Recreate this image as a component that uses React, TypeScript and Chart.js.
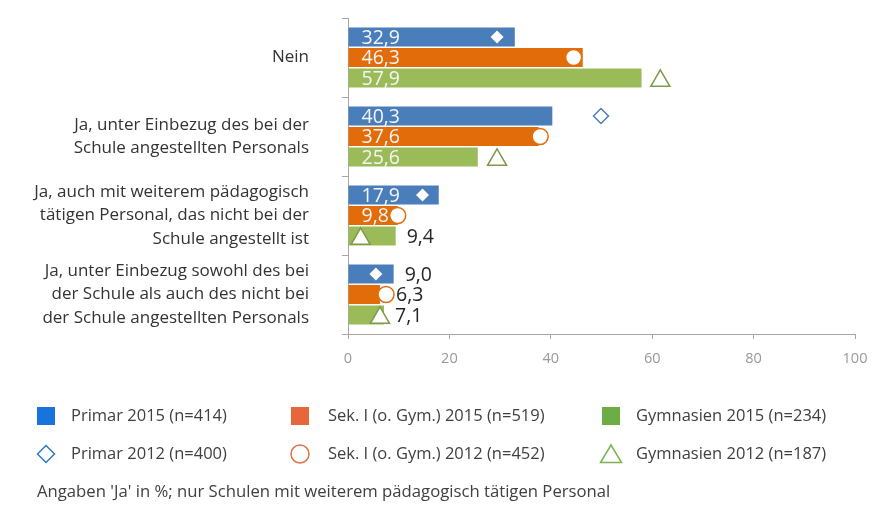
import React, { useEffect, useRef } from 'react';
import { Chart, registerables } from 'chart.js';

Chart.register(...registerables);

const categories: string[][] = [
  ['Nein'],
  ['Ja, unter Einbezug des bei der', 'Schule angestellten Personals'],
  ['Ja, auch mit weiterem pädagogisch', 'tätigen Personal, das nicht bei der', 'Schule angestellt ist'],
  ['Ja, unter Einbezug sowohl des bei', 'der Schule als auch des nicht bei', 'der Schule angestellten Personals'],
];

const primar2015 = [32.9, 40.3, 17.9, 9.0];
const sek2015 = [46.3, 37.6, 9.8, 6.3];
const gym2015 = [57.9, 25.6, 9.4, 7.1];

const primar2012 = [29.4, 49.9, 14.7, 5.5];
const sek2012 = [44.5, 37.9, 9.8, 7.5];
const gym2012 = [61.6, 29.4, 2.5, 6.3];

const xMin = 0;
const xMax = 100;
const xStep = 20;

const legend2015 = ['Primar 2015 (n=414)', 'Sek. I (o. Gym.) 2015 (n=519)', 'Gymnasien 2015 (n=234)'];
const legend2012 = ['Primar 2012 (n=400)', 'Sek. I (o. Gym.) 2012 (n=452)', 'Gymnasien 2012 (n=187)'];
const footnote = "Angaben 'Ja' in %; nur Schulen mit weiterem pädagogisch tätigen Personal";

const FONT = "'Open Sans', 'Noto Sans', sans-serif";
const barColors = ['#4a7ebb', '#e36c0a', '#9bbb59'];
const markerColors = ['#4a7ebb', '#e36c0a', '#7f9a4c'];
const markerStyles = ['rectRot', 'circle', 'triangle'];
const markerRadii = [7.5, 8, 11];
const legendSquareColors = ['#1a73dc', '#e8673a', '#6cae45'];
const legendMarkerColors = ['#2f78cc', '#e0744a', '#7ab34e'];

const fmt = (v: number) => v.toFixed(1).replace('.', ',');

const markerAlignPlugin = {
  id: 'markerAlign',
  afterDatasetsUpdate(chart: any) {
    for (let k = 0; k < 3; k++) {
      const barMeta = chart.getDatasetMeta(k);
      const mMeta = chart.getDatasetMeta(k + 3);
      mMeta.data.forEach((pt: any, i: number) => {
        const bar = barMeta.data[i];
        if (bar) pt.y = bar.y + (markerStyles[k] === 'triangle' ? markerRadii[k] * 0.25 : 0);
      });
    }
  },
};

const labelPlugin = {
  id: 'barLabels',
  afterDatasetsDraw(chart: any) {
    const ctx = chart.ctx;
    ctx.save();
    ctx.font = `19.5px ${FONT}`;
    ctx.textBaseline = 'middle';
    ctx.textAlign = 'left';
    for (let k = 0; k < 3; k++) {
      const barMeta = chart.getDatasetMeta(k);
      const mMeta = chart.getDatasetMeta(k + 3);
      const data = chart.data.datasets[k].data as number[];
      barMeta.data.forEach((bar: any, i: number) => {
        const v = data[i];
        const pt = mMeta.data[i];
        let x: number;
        if (v >= 9.5) {
          ctx.fillStyle = '#f4f4f4';
          x = bar.base + 13;
        } else {
          ctx.fillStyle = '#262626';
          x = Math.max(bar.x + 11, pt.x + markerRadii[k] + 2);
        }
        ctx.fillText(fmt(v), x, bar.y + 1);
      });
    }
    ctx.restore();
  },
};

const legendPlugin = {
  id: 'customLegendFoot',
  afterDraw(chart: any) {
    const ctx = chart.ctx;
    ctx.save();
    const colX = [37, 291, 602];
    const textX = [71, 328, 636];
    const rowY = [416, 454];
    ctx.font = `16.5px ${FONT}`;
    ctx.textBaseline = 'middle';
    ctx.textAlign = 'left';
    for (let c = 0; c < 3; c++) {
      ctx.fillStyle = legendSquareColors[c];
      ctx.fillRect(colX[c], rowY[0] - 9, 18, 18);
      ctx.fillStyle = '#404040';
      ctx.fillText(legend2015[c], textX[c], rowY[0]);

      const cx = colX[c] + 9;
      const cy = rowY[1];
      ctx.strokeStyle = legendMarkerColors[c];
      ctx.lineWidth = 1.5;
      ctx.beginPath();
      if (c === 0) {
        ctx.moveTo(cx - 8.5, cy);
        ctx.lineTo(cx, cy - 8.5);
        ctx.lineTo(cx + 8.5, cy);
        ctx.lineTo(cx, cy + 8.5);
        ctx.closePath();
      } else if (c === 1) {
        ctx.arc(cx, cy, 9, 0, Math.PI * 2);
      } else {
        ctx.moveTo(cx, cy - 9);
        ctx.lineTo(cx + 10.5, cy + 8.5);
        ctx.lineTo(cx - 10.5, cy + 8.5);
        ctx.closePath();
      }
      ctx.stroke();
      ctx.fillStyle = '#404040';
      ctx.fillText(legend2012[c], textX[c], rowY[1]);
    }
    ctx.font = `16.7px ${FONT}`;
    ctx.fillStyle = '#404040';
    ctx.fillText(footnote, 37, 492);
    ctx.restore();
  },
};

export default function App() {
  const ref = useRef<HTMLCanvasElement>(null);

  useEffect(() => {
    document.body.style.margin = '0';
    const canvas = ref.current!;
    const barSets = [primar2015, sek2015, gym2015].map((d, k) => ({
      type: 'bar' as const,
      label: legend2015[k],
      data: d,
      backgroundColor: barColors[k],
      indexAxis: 'y' as const,
      barPercentage: 0.93,
      categoryPercentage: 0.78,
      order: 1,
    }));
    const markerSets = [primar2012, sek2012, gym2012].map((d, k) => ({
      type: 'line' as const,
      label: legend2012[k],
      data: d,
      indexAxis: 'y' as const,
      showLine: false,
      pointStyle: markerStyles[k],
      pointRadius: markerRadii[k],
      pointHoverRadius: markerRadii[k],
      pointBackgroundColor: '#ffffff',
      pointBorderColor: markerColors[k],
      pointBorderWidth: 1.5,
      order: 0,
    }));

    const chart = new Chart(canvas, {
      type: 'bar',
      data: {
        labels: categories as any,
        datasets: [...barSets, ...markerSets] as any,
      },
      options: {
        indexAxis: 'y',
        animation: false,
        responsive: false,
        devicePixelRatio: 1,
        layout: { padding: { top: 18, right: 22, left: 0, bottom: 0 } },
        plugins: { legend: { display: false }, tooltip: { enabled: false } },
        scales: {
          x: {
            type: 'linear',
            min: xMin,
            max: xMax,
            ticks: {
              stepSize: xStep,
              color: '#999999',
              font: { family: FONT, size: 14.5 },
              padding: 11,
            },
            grid: {
              drawOnChartArea: false,
              drawTicks: true,
              tickLength: 5,
              color: '#a6a6a6',
            },
            border: { color: '#a6a6a6' },
            afterFit: (s: any) => {
              s.height = 171;
              s.paddingLeft = 0;
              s.paddingRight = 0;
            },
          },
          y: {
            type: 'category',
            offset: true,
            ticks: {
              color: '#333333',
              font: { family: FONT, size: 17, lineHeight: 1.38 },
              padding: 33,
              autoSkip: false,
            },
            grid: {
              offset: true,
              drawOnChartArea: false,
              drawTicks: true,
              tickLength: 6,
              color: '#a6a6a6',
            },
            border: { color: '#a6a6a6' },
            afterFit: (s: any) => {
              s.width = 348;
              s.paddingTop = 0;
              s.paddingBottom = 0;
            },
          },
        },
      },
      plugins: [markerAlignPlugin, labelPlugin, legendPlugin],
    });
    return () => chart.destroy();
  }, []);

  return (
    <div style={{ position: 'fixed', left: 0, top: 0, width: 877, height: 505, background: '#fff' }}>
      <canvas ref={ref} width={877} height={505} />
    </div>
  );
}
